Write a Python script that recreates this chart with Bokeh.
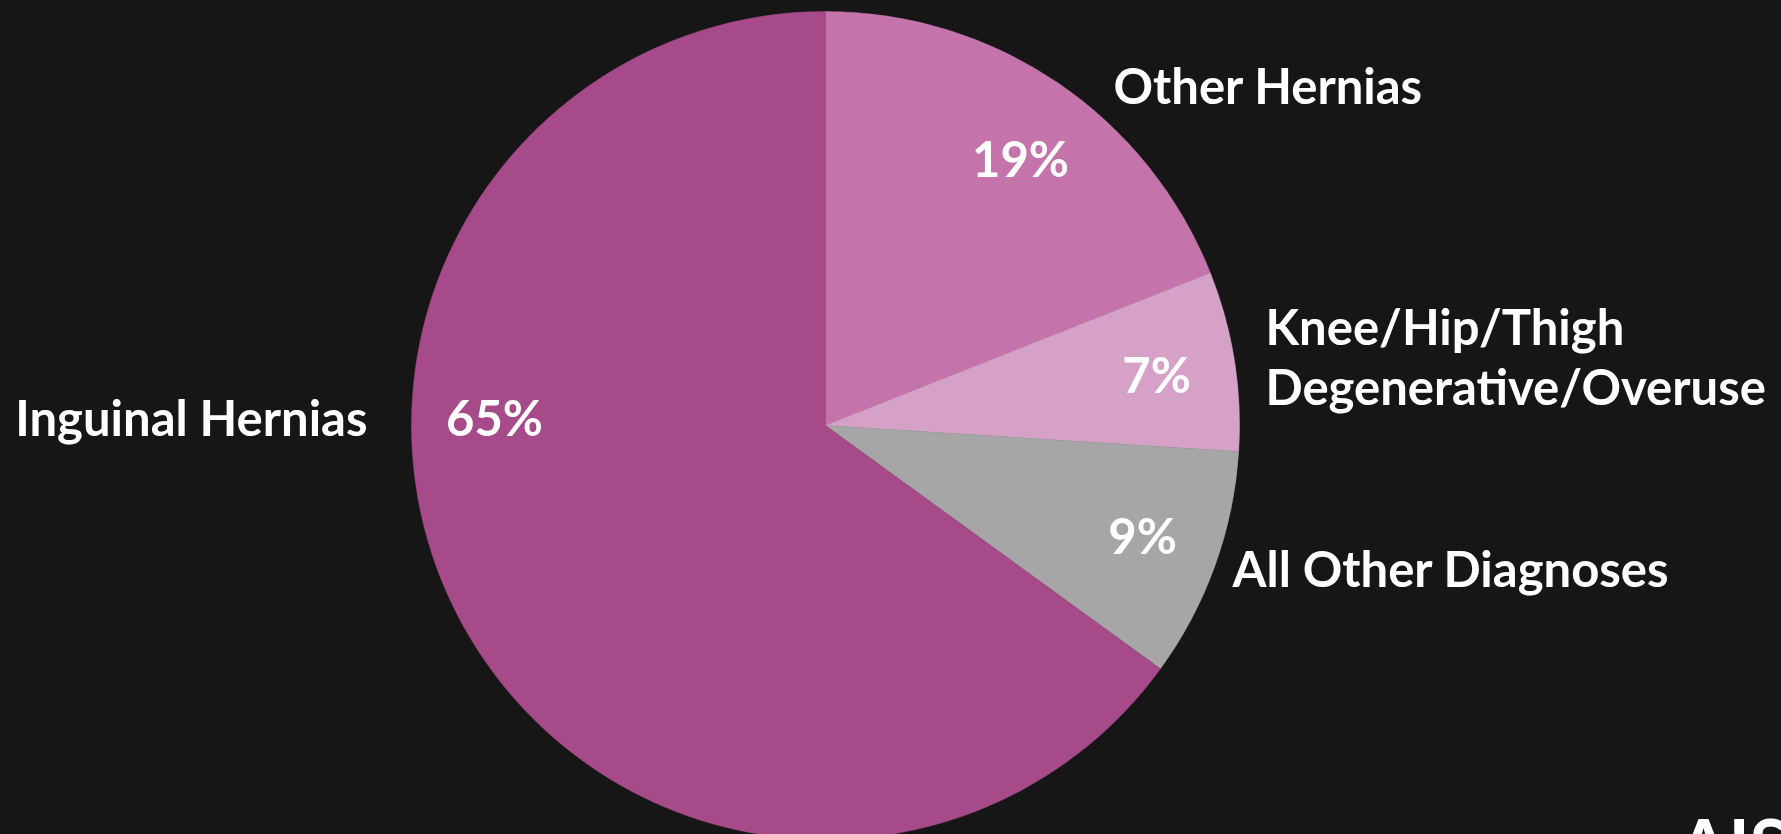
import math
from bokeh.plotting import figure
from bokeh.models import Range1d, ColumnDataSource
from bokeh.core.properties import value
from bokeh.embed import file_html
from bokeh.resources import INLINE

# ---- data ----
categories = ["Other Hernias", "Knee/Hip/Thigh\nDegenerative/Overuse", "All Other Diagnoses", "Inguinal Hernias"]
values = [19, 7, 9, 65]
pct_labels = ["19%", "7%", "9%", "65%"]
colors = ["#C474AB", "#D6A1C6", "#A6A6A6", "#A64A89"]

# ---- layout (screen px of the 1781x834 window) ----
W, H = 1781, 834
BG = "#161616"
TEXT_DY = 18  # compensation for the svg baseline placement
def sx(X): return X
def sy(Y): return H - Y
def ty(Y): return H - (Y - TEXT_DY)

cx, cy, R = sx(825), sy(425), 414

total = float(sum(values))
starts, ends = [], []
a = math.pi / 2
for v in values:
    starts.append(a)
    a -= 2 * math.pi * v / total
    ends.append(a)

p = figure(width=W, height=H, output_backend="svg", toolbar_location=None,
           x_range=Range1d(0, W), y_range=Range1d(0, H),
           background_fill_color=BG, border_fill_color=BG, min_border=0,
           outline_line_color=None)
p.axis.visible = False
p.grid.visible = False

src = ColumnDataSource(dict(start=starts, end=ends, color=colors, cat=categories, val=values))
p.wedge(x=cx, y=cy, radius=R, start_angle="start", end_angle="end", direction="clock",
        fill_color="color", line_color="color", line_width=0.5, source=src)

FONT = value("Lato")
FS = "49px"

# percentage labels (centre x, baseline y)
pct_pos = [(1020, 175), (1156, 391), (1142, 552), (494, 434)]
p.text(x=[sx(X) for X, Y in pct_pos], y=[ty(Y) for X, Y in pct_pos], text=pct_labels,
       text_color="white", text_font=FONT, text_font_style="bold", text_font_size=FS,
       text_align="center", text_baseline="alphabetic")

# category labels (anchor x, baseline y of first line)
cat_pos = [(1113, 102, "left"), (1265, 343, "left"), (1232, 585, "left"), (367, 434, "right")]
LINE_STEP = 60
for (X, Y, al), c in zip(cat_pos, categories):
    lines = c.split("\n")
    for i, ln in enumerate(lines):
        p.text(x=[sx(X)], y=[ty(Y + LINE_STEP * i)], text=[ln], text_color="white", text_font=FONT,
               text_font_style="bold", text_font_size=FS, text_align=al,
               text_baseline="alphabetic")

# partially visible logo in the corner
p.text(x=[sx(1678)], y=[ty(861)], text=["AIS"], text_color="white", text_font=FONT,
       text_font_style="bold", text_font_size="72px", text_align="left",
       text_baseline="alphabetic")

html = file_html(p, INLINE)
html = html.replace("</head>", "<style>html, body { background-color: %s; }</style></head>" % BG, 1)
open("out.html", "w").write(html)
